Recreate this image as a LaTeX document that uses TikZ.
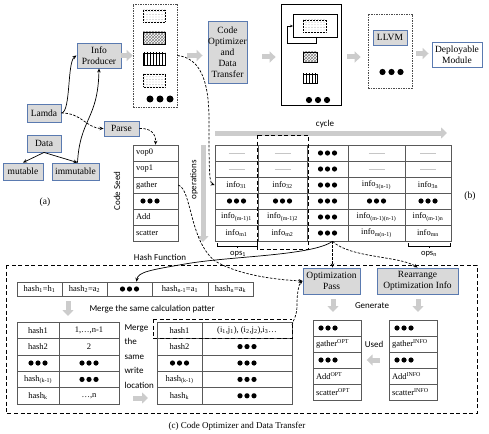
\documentclass[tikz,border=0pt]{standalone}
\usepackage{fontspec}
\setmainfont{Liberation Serif}
\newfontfamily\calib{Carlito}
\usetikzlibrary{arrows.meta,patterns,calc}
\pgfdeclarepatternformonly{sparsedots}{\pgfqpoint{-1pt}{-1pt}}{\pgfqpoint{1pt}{1pt}}{\pgfqpoint{3pt}{2.6pt}}{\pgfpathcircle{\pgfqpoint{0pt}{0pt}}{0.45pt}\pgfusepath{fill}}
\definecolor{boxfill}{HTML}{D9D9D9}
\definecolor{boxline}{HTML}{5A7AB0}
\definecolor{tline}{HTML}{595959}
\definecolor{garrow}{HTML}{CCCCCC}
\tikzset{
  gbox/.style={draw=boxline, fill=boxfill, line width=0.9pt, align=center, inner sep=0pt, font=\rmfamily\fontsize{9.5}{11}\selectfont},
  wbox/.style={gbox, fill=white},
  cell/.style={draw=tline, line width=0.6pt, inner sep=0pt, minimum height=16pt, font=\rmfamily\fontsize{8.5}{10}\selectfont},
  cellL/.style={cell, text width=#1, align=left, inner xsep=3pt},
  garr/.style={draw=garrow, line width=5pt, -{Triangle[length=6pt,width=11pt]}},
  sarr/.style={draw=black, line width=0.7pt, -{Stealth[length=4pt,width=3.5pt]}},
  darr/.style={sarr, dash pattern=on 2.5pt off 1.5pt},
  dline/.style={draw=black, line width=1pt, dash pattern=on 4pt off 2.5pt},
  fdash/.style={draw=black!70, line width=0.7pt, dash pattern=on 1.5pt off 1pt},
  glin/.style={draw=gray!45, line width=0.8pt},
  sans/.style={font=\calib\fontsize{9}{11}\selectfont},
  serifl/.style={font=\rmfamily\fontsize{9.5}{11}\selectfont},
  pics/tdots/.style={code={\fill (-7pt,0) circle (2.6pt) (0,0) circle (2.6pt) (7pt,0) circle (2.6pt);}},
  pics/mdots/.style={code={\fill (-9pt,0) circle (3.1pt) (0,0) circle (3.1pt) (9pt,0) circle (3.1pt);}},
  pics/bdots/.style={code={\fill (-10pt,0) circle (3.5pt) (0,0) circle (3.5pt) (10pt,0) circle (3.5pt);}},
}
\begin{document}
\begin{tikzpicture}[x=1pt,y=-1pt]
\useasboundingbox (0,0) rectangle (489,433);

% ---------- top row ----------
\node[gbox, minimum width=44pt, minimum height=25pt] (ip) at (99,55.5) {Info\\Producer};
\node[fdash, minimum width=44pt, minimum height=103pt] (stk) at (155,55.5) {};
\draw[line width=0.5pt, densely dotted, pattern=sparsedots, pattern color=gray] (143,10) rectangle (165,22);
\draw[line width=0.5pt, pattern=crosshatch, pattern color=gray] (143,32) rectangle (165,44);
\draw[line width=0.5pt, pattern=vertical lines] (143,53) rectangle (165,65);
\draw[line width=0.5pt, densely dotted, pattern=sparsedots, pattern color=gray] (143,74) rectangle (165,87);
\pic at (160,99) {bdots};

\node[gbox, minimum width=39pt, minimum height=62pt] (cod) at (227.5,52) {Code\\Optimizer\\and\\Data\\Transfer};

\node[draw=black, line width=0.8pt, minimum width=60pt, minimum height=101pt] (cyc) at (311,54.5) {};
\draw[line width=0.6pt] (293,14) rectangle (337,37);
\draw[line width=0.5pt, densely dotted, pattern=sparsedots, pattern color=gray] (303,20) rectangle (326,32);
\draw[line width=0.6pt, -{Stealth[length=3pt,width=2.5pt]}] (316,37) -- (316,43) -- (287,43) -- (287,26) -- (293,26);
\draw[line width=0.5pt, pattern=crosshatch, pattern color=gray] (303,52) rectangle (317,62);
\draw[line width=0.5pt, pattern=vertical lines] (303,74) rectangle (317,83);
\pic at (318,100) {mdots};
\node[sans] (cyct) at (325,124) {cycle};

\node[fdash, minimum width=44pt, minimum height=74pt] (llb) at (390,51) {};
\node[gbox, minimum width=34pt, minimum height=15pt] (llvm) at (390,37.5) {LLVM};
\pic at (391.5,72) {mdots};

\node[wbox, minimum width=50pt, minimum height=25pt] (dep) at (457,54.5) {Deployable\\Module};

\draw[garr] (ip.east) -- (stk.west);
\draw[garr, shorten <=10pt, shorten >=5pt] (stk.east) -- (stk.east -| cod.west);
\draw[garr, shorten <=15pt, shorten >=5pt] ([yshift=-5pt]cod.east) -- ([yshift=-5pt]cod.east -| cyc.west);
\draw[garr, shorten <=6pt, shorten >=7pt] ([yshift=-2.5pt]cyc.east) -- ([yshift=-2.5pt]cyc.east -| llb.west);
\draw[garr, shorten <=4pt, shorten >=3pt] ([yshift=-2.5pt]llb.east) -- ([yshift=-2.5pt]llb.east -| dep.west);

% ---------- (a) ----------
\node[gbox, minimum width=34pt, minimum height=18pt] (lamda) at (44,113) {Lamda};
\node[gbox, minimum width=34pt, minimum height=17pt] (data) at (44,143.5) {Data};
\node[gbox, minimum width=40pt, minimum height=17pt] (mut) at (23,171.5) {mutable};
\node[gbox, minimum width=47pt, minimum height=17pt] (immut) at (75.5,171.5) {immutable};
\node[gbox, minimum width=35pt, minimum height=15pt] (parse) at (121.5,128.5) {Parse};
\node[serifl] (la) at (45,202) {(a)};

\draw[sarr] (lamda.east) .. controls (71,112) and (67,62) .. (ip.west);
\draw[sarr] (data.south) -- (mut.north);
\draw[sarr] (data.south) -- ([xshift=2pt]immut.north);
\draw[sarr] ([xshift=2pt]immut.north) .. controls (80,118) and (98,120) .. (ip.south);
\draw[darr] (lamda.east) .. controls (82,113) and (86,128) .. (parse.west);

% ---------- code seed ----------
\node[cellL=39pt] (cs1) at (155.5,153) {vop0};
\node[cellL=39pt] (cs2) at (155.5,169) {vop1};
\node[cellL=39pt] (cs3) at (155.5,185) {gather};
\node[cellL=39pt] (cs4) at (155.5,201) {};
\node[cellL=39pt] (cs5) at (155.5,217) {Add};
\node[cellL=39pt] (cs6) at (155.5,233) {scatter};
\pic at (150,201) {tdots};
\node[sans, rotate=90] (csl) at (117,191) {Code Seed};
\draw[darr] (parse.east) .. controls (150,128) and (156,133) .. (cs1.north);

% ---------- (b) operations table ----------
\draw[garr] (215,133) -- (447,133);
\draw[garr] (203,145) -- (203,242);
\node[sans, rotate=90] (opl) at (194,180) {operations};

\node[cell, minimum width=43pt] (o11) at (236.5,153) {};
\node[cell, minimum width=49pt] (o12) at (282.5,153) {};
\node[cell, minimum width=41pt] (o13) at (327.5,153) {};
\node[cell, minimum width=57pt] (o14) at (376.5,153) {};
\node[cell, minimum width=46pt] (o15) at (428,153) {};
\node[cell, minimum width=43pt] (o21) at (236.5,169) {};
\node[cell, minimum width=49pt] (o22) at (282.5,169) {};
\node[cell, minimum width=41pt] (o23) at (327.5,169) {};
\node[cell, minimum width=57pt] (o24) at (376.5,169) {};
\node[cell, minimum width=46pt] (o25) at (428,169) {};
\node[cell, minimum width=43pt] (o31) at (236.5,185) {info\textsubscript{31}};
\node[cell, minimum width=49pt] (o32) at (282.5,185) {info\textsubscript{32}};
\node[cell, minimum width=41pt] (o33) at (327.5,185) {};
\node[cell, minimum width=57pt] (o34) at (376.5,185) {info\textsubscript{3(n-1)}};
\node[cell, minimum width=46pt] (o35) at (428,185) {info\textsubscript{3n}};
\node[cell, minimum width=43pt] (o41) at (236.5,201) {};
\node[cell, minimum width=49pt] (o42) at (282.5,201) {};
\node[cell, minimum width=41pt] (o43) at (327.5,201) {};
\node[cell, minimum width=57pt] (o44) at (376.5,201) {};
\node[cell, minimum width=46pt] (o45) at (428,201) {};
\node[cell, minimum width=43pt] (o51) at (236.5,217) {info\textsubscript{(m-1)1}};
\node[cell, minimum width=49pt] (o52) at (282.5,217) {info\textsubscript{(m-1)2}};
\node[cell, minimum width=41pt] (o53) at (327.5,217) {};
\node[cell, minimum width=57pt] (o54) at (376.5,217) {info\textsubscript{(m-1)(n-1)}};
\node[cell, minimum width=46pt] (o55) at (428,217) {info\textsubscript{(m-1)n}};
\node[cell, minimum width=43pt] (o61) at (236.5,233) {info\textsubscript{m1}};
\node[cell, minimum width=49pt] (o62) at (282.5,233) {info\textsubscript{m2}};
\node[cell, minimum width=41pt] (o63) at (327.5,233) {};
\node[cell, minimum width=57pt] (o64) at (376.5,233) {info\textsubscript{m(n-1)}};
\node[cell, minimum width=46pt] (o65) at (428,233) {info\textsubscript{mn}};
\foreach \n in {o11,o12,o14,o15,o21,o22,o24,o25}
  \draw[glin] ([xshift=-8pt]\n.center) -- ([xshift=8pt]\n.center);
\foreach \n in {o13,o23,o33,o43,o53,o63,o41,o42,o44,o45}
  \pic at (\n) {tdots};
\draw[dline] (257,135) rectangle (308,249);
\draw[line width=0.5pt] (217,243) -- (217,246) -- (257,246) -- (257,243) (237,246) -- (237,248);
\draw[line width=0.5pt] (408,243) -- (408,246) -- (450,246) -- (450,243) (429,246) -- (429,248);
\node[sans, font=\calib\fontsize{8.5}{10}\selectfont] (ops1) at (238,254) {ops\textsubscript{1}};
\node[sans, font=\calib\fontsize{8.5}{10}\selectfont] (opsn) at (429,254) {ops\textsubscript{n}};
\node[serifl] (lb) at (470,196) {(b)};

\draw[darr] (stk.east) .. controls (200,58) and (209,80) .. (209,120) .. controls (209,165) and (209,183) .. (o31.west);

% ---------- (c) ----------
\draw[dline] (6,265) rectangle (477,413);
\node[sans] (hf) at (160,257) {Hash Function};

\node[cell, minimum width=45pt, minimum height=14pt] (h1) at (39.5,289) {hash\textsubscript{1}=h\textsubscript{1}};
\node[cell, minimum width=45pt, minimum height=14pt] (h2) at (84.5,289) {hash\textsubscript{2}=a\textsubscript{2}};
\node[cell, minimum width=45pt, minimum height=14pt] (h3) at (129.5,289) {};
\node[cell, minimum width=56pt, minimum height=14pt] (h4) at (180,289) {hash\textsubscript{n-1}=a\textsubscript{1}};
\node[cell, minimum width=45pt, minimum height=14pt] (h5) at (230.5,289) {hash\textsubscript{n}=a\textsubscript{k}};
\pic at (h3) {tdots};

\draw[garr] (68,301) -- (68,316);
\node[sans, anchor=west] (mcp) at (86,309) {Merge the same calculation patter};

% left table
\node[cell, minimum width=42pt, minimum height=16.4pt] (l11) at (38,330.2) {hash1};
\node[cell, minimum width=60pt, minimum height=16.4pt] (l12) at (89,330.2) {1,…,n-1};
\node[cell, minimum width=42pt, minimum height=16.4pt] (l21) at (38,346.6) {hash2};
\node[cell, minimum width=60pt, minimum height=16.4pt] (l22) at (89,346.6) {2};
\node[cell, minimum width=42pt, minimum height=16.4pt] (l31) at (38,363) {};
\node[cell, minimum width=60pt, minimum height=16.4pt] (l32) at (89,363) {};
\node[cell, minimum width=42pt, minimum height=16.4pt] (l41) at (38,379.4) {hash\textsubscript{(k-1)}};
\node[cell, minimum width=60pt, minimum height=16.4pt] (l42) at (89,379.4) {};
\node[cell, minimum width=42pt, minimum height=16.4pt] (l51) at (38,395.8) {hash\textsubscript{k}};
\node[cell, minimum width=60pt, minimum height=16.4pt] (l52) at (89,395.8) {…,n};
\foreach \n in {l31,l32,l42} \pic at (\n) {tdots};

\node[sans, anchor=north west, align=left, font=\calib\fontsize{9}{14.5}\selectfont] (mwl) at (121,321) {Merge\\the\\same\\write\\location};
\draw[garr] (133,398) -- (148,398);

% merged table
\node[cell, minimum width=45pt, minimum height=16.4pt] (m11) at (179.5,330.2) {hash1};
\node[cell, minimum width=90pt, minimum height=16.4pt] (m12) at (247,330.2) {(i\textsubscript{1},j\textsubscript{1}), (i\textsubscript{2},j\textsubscript{2}),i\textsubscript{3}…};
\node[cell, minimum width=45pt, minimum height=16.4pt] (m21) at (179.5,346.6) {hash2};
\node[cell, minimum width=90pt, minimum height=16.4pt] (m22) at (247,346.6) {};
\node[cell, minimum width=45pt, minimum height=16.4pt] (m31) at (179.5,363) {};
\node[cell, minimum width=90pt, minimum height=16.4pt] (m32) at (247,363) {};
\node[cell, minimum width=45pt, minimum height=16.4pt] (m41) at (179.5,379.4) {hash\textsubscript{(k-1)}};
\node[cell, minimum width=90pt, minimum height=16.4pt] (m42) at (247,379.4) {};
\node[cell, minimum width=45pt, minimum height=16.4pt] (m51) at (179.5,395.8) {hash\textsubscript{k}};
\node[cell, minimum width=90pt, minimum height=16.4pt] (m52) at (247,395.8) {};
\foreach \n in {m22,m31,m32,m42,m52} \pic at (\n) {tdots};
\draw[dline] (153,319) -- (292,319);
\draw[dline] (153,319) -- (153,338.4) -- (292,338.4) -- (292,325);

% optimization boxes
\node[gbox, minimum width=57pt, minimum height=26pt] (optp) at (331.5,281) {Optimization\\Pass};
\node[gbox, minimum width=81pt, minimum height=26pt] (rearr) at (417.5,281) {Rearrange\\Optimization Info};
\draw[garr] (333,299) -- (333,312);
\draw[garr] (418,299) -- (418,312);
\node[sans] (gen) at (372,306) {Generate};

% OPT table
\node[cellL=42pt] (p1) at (337,328) {};
\node[cellL=42pt] (p2) at (337,344) {gather\textsuperscript{OPT}};
\node[cellL=42pt] (p3) at (337,360) {};
\node[cellL=42pt] (p4) at (337,376) {Add\textsuperscript{OPT}};
\node[cellL=42pt] (p5) at (337,392) {scatter\textsuperscript{OPT}};
\pic at (328,328) {tdots};
\pic at (328,360) {tdots};
% INFO table
\node[cellL=42pt] (q1) at (413,328) {};
\node[cellL=42pt] (q2) at (413,344) {gather\textsuperscript{INFO}};
\node[cellL=42pt] (q3) at (413,360) {};
\node[cellL=42pt] (q4) at (413,376) {Add\textsuperscript{INFO}};
\node[cellL=42pt] (q5) at (413,392) {scatter\textsuperscript{INFO}};
\pic at (404,328) {tdots};
\pic at (404,360) {tdots};
\node[sans] (used) at (374,344) {Used};
\draw[garr] (q3.west) ++(-9pt,0) -- ++(-13pt,0);

% connectors into (c)
\draw[darr] (cs3.east) .. controls (192,190) and (189,240) .. (215,261) .. controls (240,276) and (280,280) .. (optp.west);
\draw[darr] (292,325) .. controls (294,318) and (297,316) .. (297,305) .. controls (297,292) and (299,284) .. (optp.west);
\draw[sarr] ([xshift=5pt]o63.south) .. controls (312,256) and (230,256) .. (185,264) .. controls (150,270) and (138,272) .. ([xshift=7pt]h3.north);
\draw[darr] ([xshift=5pt]o63.south) -- ([xshift=5pt]o63.south |- optp.north);
\draw[darr] ([xshift=5pt]o63.south) .. controls (350,258) and (400,256) .. (rearr.north);

\node[serifl, font=\rmfamily\fontsize{9}{11}\selectfont] (cap) at (237,426) {(c) Code Optimizer and Data Transfer};
\end{tikzpicture}
\end{document}
